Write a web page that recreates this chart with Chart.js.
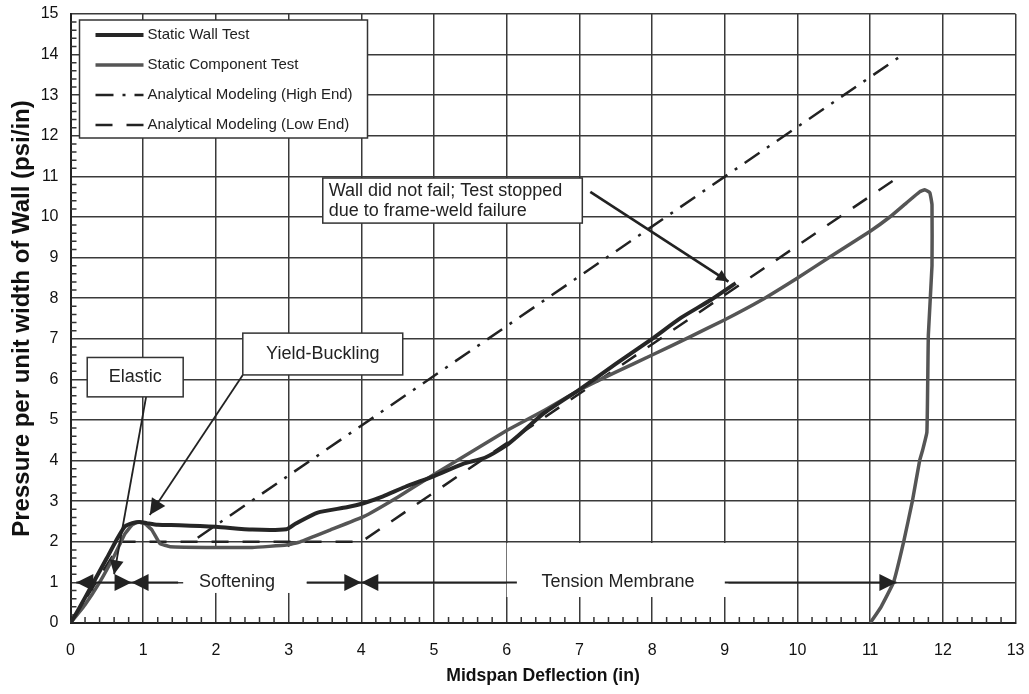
<!DOCTYPE html>
<html>
<head>
<meta charset="utf-8">
<script src="https://cdn.jsdelivr.net/npm/chart.js@4.4.1/dist/chart.umd.min.js"></script>
<style>
  html, body { margin: 0; padding: 0; background: #fff; }
  #chart { display: block; }
</style>
</head>
<body>
<canvas id="chart" width="1029" height="694"></canvas>
<script>
// Pressure vs midspan deflection
const wallX = [0, 0.1, 0.3, 0.5, 0.65, 0.75, 0.85, 0.95, 1.05, 1.2, 1.5, 2.0, 2.5, 2.97, 3.1, 3.4, 3.8, 4.03, 4.3, 4.6, 5.0, 5.4, 5.7, 6.0, 6.15, 6.5, 7.0, 7.5, 8.0, 8.4, 8.8, 9.15];
const wallY = [0, 0.3, 0.95, 1.6, 2.1, 2.38, 2.46, 2.49, 2.46, 2.42, 2.41, 2.37, 2.3, 2.31, 2.45, 2.72, 2.85, 2.95, 3.12, 3.35, 3.62, 3.92, 4.07, 4.38, 4.6, 5.15, 5.75, 6.38, 7.0, 7.52, 7.95, 8.37];

const compX = [0, 0.2, 0.4, 0.6, 0.75, 0.85, 0.93, 1.02, 1.12, 1.23, 1.37, 2.0, 2.5, 2.97, 3.16, 3.57, 4.03, 4.5, 5.0, 5.5, 6.0, 6.5, 7.0, 7.5, 8.0, 8.5, 9.0, 9.5, 10.0, 10.45, 11.0, 11.27, 11.5, 11.68, 11.75, 11.82, 11.85, 11.85, 11.8, 11.78, 11.72, 11.68, 11.58, 11.46, 11.32, 11.15, 11.0];
const compY = [0, 0.45, 1.0, 1.65, 2.2, 2.42, 2.49, 2.45, 2.29, 1.96, 1.88, 1.86, 1.86, 1.92, 2.0, 2.29, 2.62, 3.1, 3.66, 4.2, 4.74, 5.22, 5.74, 6.18, 6.6, 7.03, 7.47, 7.95, 8.5, 9.02, 9.65, 10.0, 10.35, 10.62, 10.67, 10.6, 10.3, 8.8, 7.1, 4.7, 4.25, 4.0, 3.0, 2.0, 1.0, 0.4, 0];

const highX = [1.75, 11.45];
const highY = [2.1, 14.0];

const lowX = [0, 0.7, 4.0, 11.4];
const lowY = [0, 2.0, 2.0, 11.0];

const seriesLabels = ['Static Wall Test', 'Static Component Test', 'Analytical Modeling (High End)', 'Analytical Modeling (Low End)'];

const xTitle = 'Midspan Deflection (in)';
const yTitle = 'Pressure per unit width of Wall (psi/in)';

// callout boxes and phase arrows, in data units
const calloutBoxes = [
    { lines: ['Elastic'], x0: 0.23, x1: 1.55, y0: 6.54, y1: 5.57, align: 'center' },
    { lines: ['Yield-Buckling'], x0: 2.37, x1: 4.57, y0: 7.14, y1: 6.11, align: 'center' },
    { lines: ['Wall did not fail; Test stopped', 'due to frame-weld failure'], x0: 3.47, x1: 7.04, y0: 10.96, y1: 9.85, align: 'left' }
];
const pointers = [
    { from: [1.04, 5.57], to: [0.6, 1.2], head: 14, width: 1.8 },
    { from: [2.37, 6.11], to: [1.09, 2.66], head: 16, width: 1.8 },
    { from: [7.15, 10.62], to: [9.05, 8.41], head: 12, width: 2.6 }
];
const phaseLabels = [
    { text: 'Softening', x: 2.29, y: 1, bg: [1.55, 3.25, 0.74, 1.87] },
    { text: 'Tension Membrane', x: 7.53, y: 1, bg: [6.0, 9.05, 0.64, 1.97] }
];
// [start, end, head at start, head at end]
const phaseSegments = [
    [0.08, 0.84, true, true],
    [0.84, 1.48, true, false],
    [3.25, 4.0, false, true],
    [4.0, 6.14, true, false],
    [9.0, 11.36, false, true]
];

const FONT = "'Liberation Sans', Arial, sans-serif";
Chart.defaults.font.family = FONT;

function toPoints(xs, ys) {
    return xs.map((x, i) => ({ x: x, y: ys[i] }));
}

function drawHead(ctx, x1, y1, x2, y2, size) {
    const ang = Math.atan2(y2 - y1, x2 - x1);
    ctx.beginPath();
    ctx.moveTo(x2, y2);
    ctx.lineTo(x2 - size * Math.cos(ang) + size * 0.5 * Math.sin(ang), y2 - size * Math.sin(ang) - size * 0.5 * Math.cos(ang));
    ctx.lineTo(x2 - size * Math.cos(ang) - size * 0.5 * Math.sin(ang), y2 - size * Math.sin(ang) + size * 0.5 * Math.cos(ang));
    ctx.closePath();
    ctx.fill();
}

const backdropPlugin = {
    id: 'backdrop',
    beforeDatasetsDraw(chart) {
        const { ctx, scales: { x, y }, chartArea } = chart;
        ctx.save();
        // white panels behind phase labels
        ctx.fillStyle = '#fff';
        phaseLabels.forEach(p => {
            const l = x.getPixelForValue(p.bg[0]), r = x.getPixelForValue(p.bg[1]);
            const t = y.getPixelForValue(p.bg[3]), b = y.getPixelForValue(p.bg[2]);
            ctx.fillRect(l, t, r - l, b - t);
        });
        // minor ticks every 0.2
        ctx.strokeStyle = '#333';
        ctx.lineWidth = 1.5;
        ctx.beginPath();
        for (let v = 0.2; v < 13; v += 0.2) {
            if (Math.abs(v - Math.round(v)) < 0.01) continue;
            const px = x.getPixelForValue(v);
            ctx.moveTo(px, chartArea.bottom);
            ctx.lineTo(px, chartArea.bottom - 6);
        }
        for (let v = 0.2; v < 15; v += 0.2) {
            if (Math.abs(v - Math.round(v)) < 0.01) continue;
            const py = y.getPixelForValue(v);
            ctx.moveTo(chartArea.left, py);
            ctx.lineTo(chartArea.left + 6, py);
        }
        ctx.stroke();
        ctx.restore();
    }
};

const notesPlugin = {
    id: 'notes',
    afterDatasetsDraw(chart) {
        const { ctx, scales: { x, y }, chartArea } = chart;
        ctx.save();
        ctx.strokeStyle = '#222';
        ctx.fillStyle = '#222';
        ctx.lineWidth = 2;

        // phase arrows along y = 1
        const py = y.getPixelForValue(1);
        phaseSegments.forEach(s => {
            const a = x.getPixelForValue(s[0]), b = x.getPixelForValue(s[1]);
            ctx.beginPath();
            ctx.moveTo(a, py);
            ctx.lineTo(b, py);
            ctx.stroke();
            if (s[2]) drawHead(ctx, b, py, a, py, 17);
            if (s[3]) drawHead(ctx, a, py, b, py, 17);
        });
        ctx.font = '18px ' + FONT;
        ctx.textAlign = 'center';
        ctx.textBaseline = 'middle';
        phaseLabels.forEach(p => {
            ctx.fillText(p.text, x.getPixelForValue(p.x), y.getPixelForValue(p.y));
        });

        // pointer lines
        pointers.forEach(p => {
            const x1 = x.getPixelForValue(p.from[0]), y1 = y.getPixelForValue(p.from[1]);
            const x2 = x.getPixelForValue(p.to[0]), y2 = y.getPixelForValue(p.to[1]);
            ctx.lineWidth = p.width;
            ctx.beginPath();
            ctx.moveTo(x1, y1);
            ctx.lineTo(x2, y2);
            ctx.stroke();
            drawHead(ctx, x1, y1, x2, y2, p.head);
        });

        // callout boxes
        calloutBoxes.forEach(b => {
            const l = x.getPixelForValue(b.x0), r = x.getPixelForValue(b.x1);
            const t = y.getPixelForValue(b.y0), btm = y.getPixelForValue(b.y1);
            ctx.fillStyle = '#fff';
            ctx.fillRect(l, t, r - l, btm - t);
            ctx.strokeStyle = '#333';
            ctx.lineWidth = 1.5;
            ctx.strokeRect(l, t, r - l, btm - t);
            ctx.fillStyle = '#222';
            ctx.font = '18px ' + FONT;
            ctx.textBaseline = 'middle';
            const lh = 20;
            const cy = (t + btm) / 2 - (b.lines.length - 1) * lh / 2;
            b.lines.forEach((line, i) => {
                if (b.align === 'center') {
                    ctx.textAlign = 'center';
                    ctx.fillText(line, (l + r) / 2, cy + i * lh);
                } else {
                    ctx.textAlign = 'left';
                    ctx.fillText(line, l + 6, cy + i * lh);
                }
            });
        });

        // legend box
        const lx = chartArea.left + 9, ly = chartArea.top + 6, lw = 288, lhgt = 118;
        ctx.fillStyle = '#fff';
        ctx.fillRect(lx, ly, lw, lhgt);
        ctx.strokeStyle = '#333';
        ctx.lineWidth = 1.5;
        ctx.strokeRect(lx, ly, lw, lhgt);
        ctx.font = '15px ' + FONT;
        ctx.textAlign = 'left';
        ctx.textBaseline = 'middle';
        chart.data.datasets.forEach((ds, i) => {
            const yy = ly + 15 + i * 30;
            ctx.save();
            ctx.strokeStyle = ds.borderColor;
            ctx.lineWidth = ds.borderWidth;
            ctx.setLineDash(ds.borderDash || []);
            ctx.beginPath();
            ctx.moveTo(lx + 16, yy);
            ctx.lineTo(lx + 64, yy);
            ctx.stroke();
            ctx.restore();
            ctx.fillStyle = '#222';
            ctx.fillText(ds.label, lx + 68, yy);
        });
        ctx.restore();
    }
};

const ctx = document.getElementById('chart').getContext('2d');
new Chart(ctx, {
    type: 'scatter',
    data: {
        datasets: [
            { label: seriesLabels[0], data: toPoints(wallX, wallY), showLine: true, borderColor: '#262626', borderWidth: 4, pointRadius: 0, tension: 0.2 },
            { label: seriesLabels[1], data: toPoints(compX, compY), showLine: true, borderColor: '#555555', borderWidth: 3.5, pointRadius: 0, tension: 0.1 },
            { label: seriesLabels[2], data: toPoints(highX, highY), showLine: true, borderColor: '#222222', borderWidth: 2.5, borderDash: [18, 9, 3, 9], pointRadius: 0 },
            { label: seriesLabels[3], data: toPoints(lowX, lowY), showLine: true, borderColor: '#222222', borderWidth: 2.5, borderDash: [17, 14], pointRadius: 0 }
        ]
    },
    options: {
        responsive: false,
        animation: false,
        layout: { padding: { left: 0, right: 13.4, top: 14, bottom: 0 } },
        plugins: {
            legend: { display: false },
            tooltip: { enabled: false }
        },
        scales: {
            x: {
                type: 'linear',
                min: 0,
                max: 13,
                ticks: { stepSize: 1, color: '#111', font: { size: 16 }, padding: 18 },
                grid: { color: '#3a3a3a', lineWidth: 1.5, drawTicks: false },
                border: { color: '#222', width: 2 },
                title: { display: true, text: xTitle, color: '#111', font: { size: 17.6, weight: 'bold' }, padding: { top: 0, bottom: 7 } },
                afterFit: s => { s.height = 71; s.paddingLeft = 0; s.paddingRight = 0; }
            },
            y: {
                type: 'linear',
                min: 0,
                max: 15,
                ticks: { stepSize: 1, color: '#111', font: { size: 16 }, padding: 12 },
                grid: { color: '#3a3a3a', lineWidth: 1.5, drawTicks: false },
                border: { color: '#222', width: 2 },
                title: { display: true, text: yTitle, color: '#111', font: { size: 24, weight: 'bold' }, padding: { top: 8, bottom: 0 } },
                afterFit: s => { s.width = 70.5; s.paddingTop = 0; s.paddingBottom = 0; }
            }
        }
    },
    plugins: [backdropPlugin, notesPlugin]
});
</script>
</body>
</html>
